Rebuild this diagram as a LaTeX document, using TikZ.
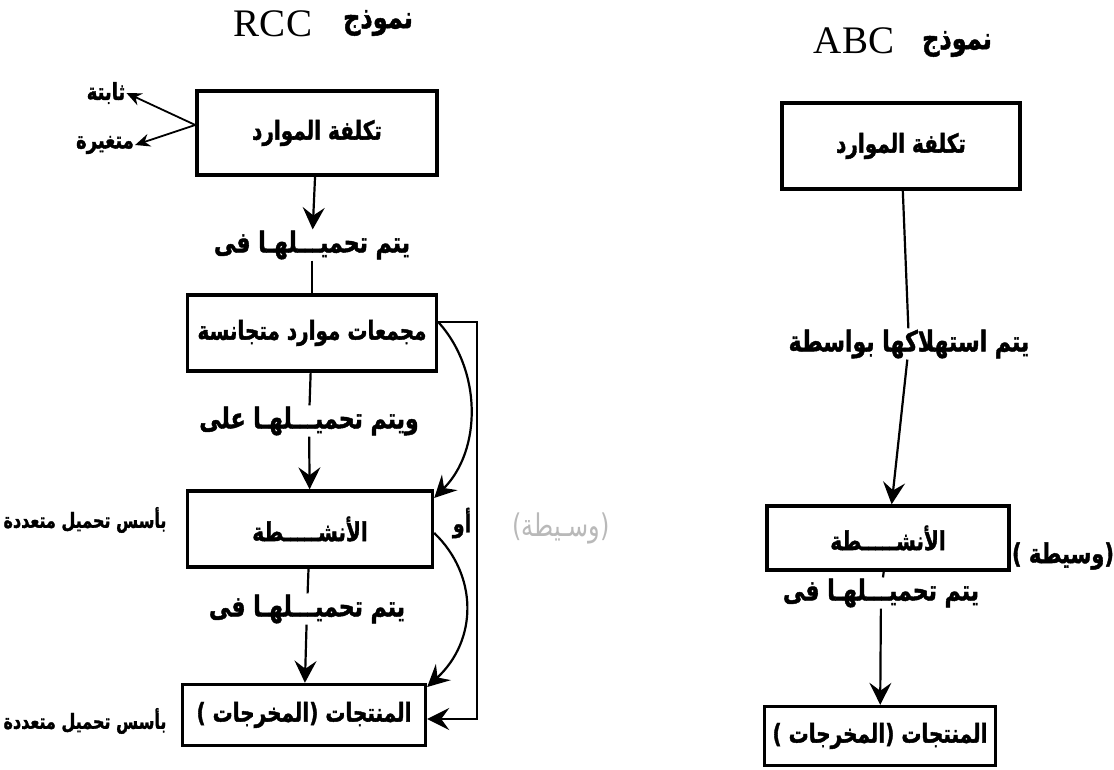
\documentclass[tikz,border=0pt]{standalone}
\usepackage{fontspec}
\usepackage{graphicx}
\usetikzlibrary{arrows.meta}
\TeXXeTstate=1
\newfontfamily\arabicfont[Script=Arabic, BoldFeatures={FakeBold=1.6}]{DejaVu Sans}
\newfontfamily\latinfont{Liberation Serif}
\newcommand{\artxt}[1]{\scalebox{1}[1.3]{\arabicfont\bfseries\beginR #1\endR}}

\begin{document}
\begin{tikzpicture}[x=1pt,y=-1pt]
                        \tikzstyle{box}=[draw, line width=3.4pt, inner sep=0pt, font=\fontsize{20}{24}\selectfont]
                        \tikzstyle{lbl}=[inner sep=1pt, font=\fontsize{22}{26}\selectfont]
                        \tikzstyle{side}=[inner sep=1pt, font=\fontsize{16}{19}\selectfont]
                        \tikzstyle{conn}=[line width=2.2pt]
                        \tikzstyle{arr}=[conn, -{Stealth[length=22pt,width=22pt,inset=8pt]}]
                        \tikzstyle{small arr}=[line width=1.8pt, -{Stealth[length=15pt,width=13pt,inset=5pt]}]
                        \useasboundingbox (0,0) rectangle (1114,770);
                        \node[font=\latinfont\fontsize{39}{40}\selectfont] (rccname) at (273,24) {RCC};
                        \node[font=\fontsize{24}{28}\selectfont] (rccmodel) at (378,23) {\artxt{نموذج}};
                        \node[box, minimum width=240pt, minimum height=84pt] (rccres) at (317,133) {\artxt{تكلفة الموارد}};
                        \node[side, font=\fontsize{18}{21}\selectfont] (fixed) at (106,93) {\artxt{ثابتة}};
                        \node[side, font=\fontsize{18}{21}\selectfont] (var) at (105,145) {\artxt{متغيرة}};
                        \node[lbl] (rccl1) at (312,245) {\artxt{يتم تحميـــلهـا فى}};
                        \node[box, minimum width=249pt, minimum height=76pt] (rccpool) at (312,333) {\artxt{مجمعات موارد متجانسة}};
                        \node[lbl] (rccl2) at (309,421) {\artxt{ويتم تحميـــلهـا على}};
                        \node[box, minimum width=245pt, minimum height=76pt] (rccact) at (310,529) {\artxt{الأنشـــــطة}};
                        \node[lbl] (rccl3) at (307,609) {\artxt{يتم تحميـــلهـا فى}};
                        \node[box, minimum width=243pt, minimum height=61pt] (rccout) at (304,715) {\artxt{المنتجات (المخرجات )}};
                        \node[side] (basis1) at (85,520) {\artxt{بأسس تحميل متعددة}};
                        \node[side] (basis2) at (85,721) {\artxt{بأسس تحميل متعددة}};
                        \node[side, font=\fontsize{19}{22}\selectfont] (orlbl) at (462,523) {\artxt{أو}};
                        \node[lbl, font=\fontsize{24}{28}\selectfont, text=gray!55] (rccmid) at (561,528) {\scalebox{1}[1.3]{\arabicfont\beginR (وسـيطة)\endR}};
                        \coordinate (poolr) at ([yshift=11pt]rccpool.east);
                        \coordinate (bendt) at (477,322);
                        \coordinate (bendb) at (477,719);
                        \draw[small arr] ([yshift=8pt]rccres.west) -- (fixed.east);
                        \draw[small arr] ([yshift=8pt]rccres.west) -- (var.east);
                        \draw[arr] (rccres) -- (rccl1);
                        \draw[conn] (rccl1) -- (rccpool);
                        \draw[conn] (rccpool) -- (rccl2);
                        \draw[arr] (rccl2) -- (rccact);
                        \draw[conn] (rccact) -- (rccl3);
                        \draw[arr] (rccl3) -- (rccout);
                        \draw[arr] (poolr) -- (bendt) -- (bendb) -- (bendb -| rccout.east);
                        \draw[arr] (poolr) .. controls (482,370) and (482,450) .. ([yshift=31pt]rccact.east);
                        \draw[arr] ([yshift=-4pt]rccact.east) .. controls (478,575) and (478,640) .. ([yshift=28pt]rccout.east);
                        \node[font=\latinfont\fontsize{39}{40}\selectfont] (abcname) at (854,41) {ABC};
                        \node[font=\fontsize{24}{28}\selectfont] (abcmodel) at (957,44) {\artxt{نموذج}};
                        \node[box, minimum width=238pt, minimum height=86pt] (abcres) at (901,146) {\artxt{تكلفة الموارد}};
                        \node[lbl] (abcl1) at (909,344) {\artxt{يتم استهلاكها بواسطة}};
                        \node[box, minimum width=242pt, minimum height=64pt] (abcact) at (888,538) {\artxt{الأنشـــــطة}};
                        \node[lbl, font=\fontsize{21}{25}\selectfont] (abcmid) at (1063,556) {\artxt{(وسيطة )}};
                        \node[lbl] (abcl2) at (881,593) {\artxt{يتم تحميـــلهـا فى}};
                        \node[box, minimum width=231pt, minimum height=59pt] (abcout) at (880,736) {\artxt{المنتجات (المخرجات )}};
                        \draw[conn] (abcres) -- (abcl1);
                        \draw[arr] (abcl1) -- (abcact);
                        \draw[conn] (abcact) -- (abcl2);
                        \draw[arr] (abcl2) -- (abcout);
                    \end{tikzpicture}
\end{document}
